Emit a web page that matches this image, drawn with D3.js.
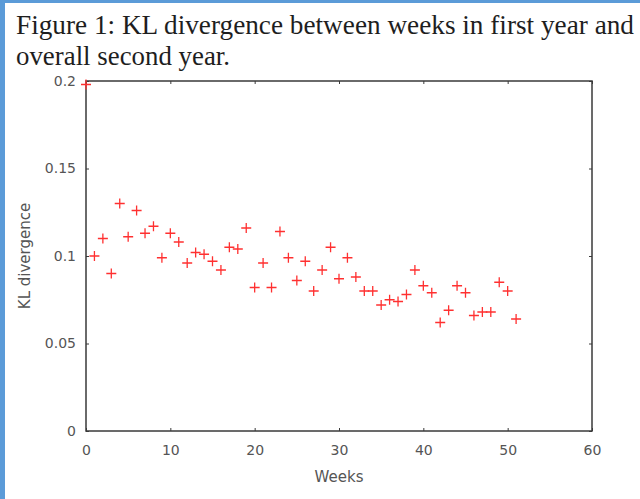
<!DOCTYPE html>
<html>
<head>
<meta charset="utf-8">
<script src="https://cdn.jsdelivr.net/npm/d3@7"></script>
<style>
  html, body { margin: 0; padding: 0; background: #fff; }
  svg { display: block; }
</style>
</head>
<body>
<svg id="chart"></svg>
<script>
// Données
const weeks = d3.range(0, 52);
const klValues = [
  0.198, 0.100, 0.110, 0.090, 0.130, 0.111, 0.126, 0.113, 0.117, 0.099,
  0.113, 0.108, 0.096, 0.102, 0.101, 0.097, 0.092, 0.105, 0.104, 0.116,
  0.082, 0.096, 0.082, 0.114, 0.099, 0.086, 0.097, 0.080, 0.092, 0.105,
  0.087, 0.099, 0.088, 0.080, 0.080, 0.072, 0.075, 0.074, 0.078, 0.092,
  0.083, 0.079, 0.062, 0.069, 0.083, 0.079, 0.066, 0.068, 0.068, 0.085,
  0.080, 0.064
];
const xTicks = [0, 10, 20, 30, 40, 50, 60];
const yTicks = [0, 0.05, 0.1, 0.15, 0.2];
const titleLines = [
  "Figure 1: KL divergence between weeks in first year and",
  "overall second year."
];
const titleWidths = [618, 214];

const width = 640;
const height = 499;
const margin = { left: 86, right: 48, top: 81, bottom: 68 };

const svg = d3.select("#chart").attr("width", width).attr("height", height);

// Cadre bleu de la visionneuse
svg.append("rect").attr("x", 0).attr("y", 0).attr("width", 5).attr("height", height).attr("fill", "#5b9bd8");
svg.append("rect").attr("x", 0).attr("y", 0).attr("width", width).attr("height", 3).attr("fill", "#5b9bd8");

// Titre
svg.append("g")
  .selectAll("text")
  .data(titleLines)
  .enter().append("text")
  .attr("x", 16)
  .attr("y", (d, i) => 34 + i * 31)
  .attr("font-family", "'Liberation Serif', 'Times New Roman', serif")
  .attr("font-size", "27px")
  .attr("fill", "#1e1e1e")
  .attr("textLength", (d, i) => titleWidths[i])
  .attr("lengthAdjust", "spacingAndGlyphs")
  .text(d => d);

// Échelles
const x = d3.scaleLinear().domain([0, 60]).range([margin.left, width - margin.right]);
const y = d3.scaleLinear().domain([0, 0.2]).range([height - margin.bottom, margin.top]);

const axisColor = "#3a3a3a";
const labelColor = "#555";
const font = "'DejaVu Sans', Verdana, sans-serif";

function styleAxis(g, showLabels) {
  g.select(".domain").remove();
  g.selectAll(".tick line").attr("stroke", axisColor).attr("stroke-width", 1);
  g.selectAll(".tick text")
    .attr("fill", labelColor)
    .attr("font-family", font)
    .attr("font-size", "14px")
    .style("display", showLabels ? null : "none");
}

// Axes (ticks vers l'intérieur)
svg.append("g")
  .attr("transform", `translate(0,${y(0)})`)
  .call(d3.axisBottom(x).tickValues(xTicks).tickSize(-3).tickPadding(14).tickFormat(d3.format("d")))
  .call(g => styleAxis(g, true));

svg.append("g")
  .attr("transform", `translate(0,${y(0.2)})`)
  .call(d3.axisTop(x).tickValues(xTicks).tickSize(-3))
  .call(g => styleAxis(g, false));

svg.append("g")
  .attr("transform", `translate(${x(0)},0)`)
  .call(d3.axisLeft(y).tickValues(yTicks).tickSize(-3).tickPadding(10).tickFormat(d => d === 0 ? "0" : String(d)))
  .call(g => styleAxis(g, true));

svg.append("g")
  .attr("transform", `translate(${x(60)},0)`)
  .call(d3.axisRight(y).tickValues(yTicks).tickSize(-3))
  .call(g => styleAxis(g, false));

// Boîte du graphique
svg.append("rect")
  .attr("x", x(0))
  .attr("y", y(0.2))
  .attr("width", x(60) - x(0))
  .attr("height", y(0) - y(0.2))
  .attr("fill", "none")
  .attr("stroke", axisColor)
  .attr("stroke-width", 1.5);

// Libellés des axes
svg.append("text")
  .attr("x", (x(0) + x(60)) / 2)
  .attr("y", 482)
  .attr("text-anchor", "middle")
  .attr("font-family", font)
  .attr("font-size", "15px")
  .attr("fill", labelColor)
  .text("Weeks");

svg.append("text")
  .attr("transform", `translate(30,${(y(0) + y(0.2)) / 2}) rotate(-90)`)
  .attr("text-anchor", "middle")
  .attr("font-family", font)
  .attr("font-size", "15px")
  .attr("fill", labelColor)
  .text("KL divergence");

// Points en croix
const data = weeks.map((w, i) => ({ week: w, value: klValues[i] }));
svg.append("g")
  .selectAll("path")
  .data(data)
  .enter().append("path")
  .attr("d", d => {
    const cx = x(d.week), cy = y(d.value), r = 5;
    return `M${cx - r},${cy}H${cx + r}M${cx},${cy - r}V${cy + r}`;
  })
  .attr("stroke", "#ff3030")
  .attr("stroke-width", 1.3)
  .attr("fill", "none");
</script>
</body>
</html>
